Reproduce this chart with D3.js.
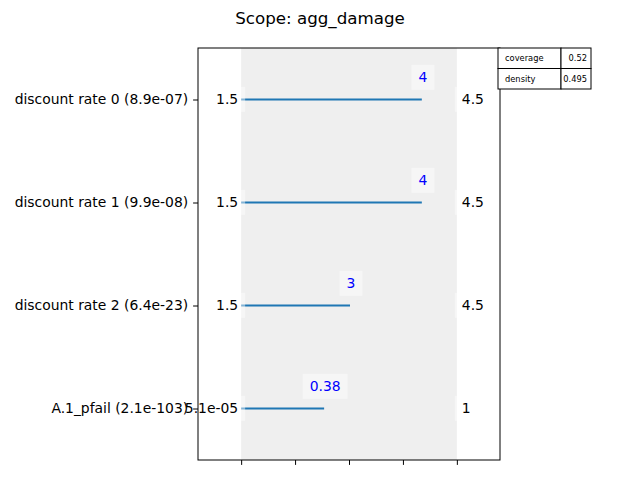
<!DOCTYPE html>
<html>
<head>
<meta charset="utf-8">
<script src="https://cdn.jsdelivr.net/npm/d3@7"></script>
<style>
  body { margin: 0; background: #fff; }
  text { font-family: "DejaVu Sans", sans-serif; }
</style>
</head>
<body>
<div id="chart"></div>
<script>
// restricted dimensions, top to bottom
var names = ["discount rate 0", "discount rate 1", "discount rate 2", "A.1_pfail"];
var qpValues = ["8.9e-07", "9.9e-08", "6.4e-23", "2.1e-103"];
var lowerLabels = ["1.5", "1.5", "1.5", "5.1e-05"];
var upperLabels = ["4.5", "4.5", "4.5", "1"];
var boxValues = ["4", "4", "3", "0.38"];
// normalised upper limit of the box on each dimension
var boxNorm = [0.833, 0.833, 0.5, 0.38];
var statNames = ["coverage", "density"];
var statValues = ["0.52", "0.495"];

var W = 640, H = 480;
var margin = { top: 48, right: 140, bottom: 20, left: 198 };

var svg = d3.select("#chart").append("svg")
    .attr("width", W)
    .attr("height", H);

var x = d3.scaleLinear().domain([-0.2, 1.2]).range([margin.left, W - margin.right]);
var y = d3.scaleLinear().domain([-0.5, names.length - 0.5]).range([margin.top, H - margin.bottom]);

// title
svg.append("text")
    .attr("x", W / 2)
    .attr("y", 24)
    .attr("text-anchor", "middle")
    .style("font-size", "16.7px")
    .text("Scope: agg_damage");

// shaded full range
svg.append("rect")
    .attr("x", x(0))
    .attr("y", y(-0.5))
    .attr("width", x(1) - x(0))
    .attr("height", y(names.length - 0.5) - y(-0.5))
    .attr("fill", "#efefef");

// box lines
svg.selectAll(".boxline")
    .data(boxNorm)
    .enter().append("line")
    .attr("x1", x(0))
    .attr("x2", d => x(d) + 1)
    .attr("y1", (d, i) => y(i))
    .attr("y2", (d, i) => y(i))
    .attr("stroke", "#1f77b4")
    .attr("stroke-width", 2);

// text with a faint white box behind it
function boxedText(g, tx, ty, anchor, str, color) {
    var bg = g.append("rect");
    var t = g.append("text")
        .attr("x", tx)
        .attr("y", ty)
        .attr("text-anchor", anchor)
        .attr("dy", "0.35em")
        .style("font-size", "13.9px")
        .attr("fill", color)
        .text(str);
    var b = t.node().getBBox();
    var padX = 7, padY = 4.5;
    bg.attr("x", b.x - padX).attr("y", b.y - padY)
        .attr("width", b.width + 2 * padX).attr("height", b.height + 2 * padY)
        .attr("fill", "#fff").attr("fill-opacity", 0.45);
}

var labels = svg.append("g");
names.forEach(function (n, i) {
    boxedText(labels, x(0) - 3, y(i), "end", lowerLabels[i], "#000");
    boxedText(labels, x(1) + 5, y(i), "start", upperLabels[i], "#000");
    boxedText(labels, x(boxNorm[i]) + 2, y(i) - 22, "middle", boxValues[i], "#0000ff");
});

// axes frame
svg.append("rect")
    .attr("x", x(-0.2))
    .attr("y", y(-0.5))
    .attr("width", x(1.2) - x(-0.2))
    .attr("height", y(names.length - 0.5) - y(-0.5))
    .attr("fill", "none")
    .attr("stroke", "#000")
    .attr("stroke-width", 1);

// y ticks
var yAxis = d3.axisLeft(y)
    .tickValues(d3.range(names.length))
    .tickFormat((d, i) => names[i] + " (" + qpValues[i] + ")")
    .tickSize(4.9)
    .tickPadding(4.9);
var gy = svg.append("g")
    .attr("transform", "translate(" + x(-0.2) + ",0)")
    .call(yAxis);
gy.select(".domain").remove();
gy.selectAll("text").style("font-size", "13.9px").style("font-family", "DejaVu Sans").attr("fill", "#000");

// x ticks without labels
var xAxis = d3.axisBottom(x)
    .tickValues([0, 0.25, 0.5, 0.75, 1])
    .tickFormat("")
    .tickSize(4.9);
var gx = svg.append("g")
    .attr("transform", "translate(0," + y(names.length - 0.5) + ")")
    .call(xAxis);
gx.select(".domain").remove();

// stats table
var tx0 = 498, tcol = 561, tx1 = 591, ty0 = 48, rowH = 20.5;
var table = svg.append("g");
statNames.forEach(function (s, i) {
    var ry = ty0 + i * rowH;
    table.append("rect").attr("x", tx0).attr("y", ry).attr("width", tcol - tx0).attr("height", rowH)
        .attr("fill", "#fff").attr("stroke", "#000").attr("stroke-width", 1);
    table.append("rect").attr("x", tcol).attr("y", ry).attr("width", tx1 - tcol).attr("height", rowH)
        .attr("fill", "#fff").attr("stroke", "#000").attr("stroke-width", 1);
    table.append("text").attr("x", tx0 + 7).attr("y", ry + rowH / 2).attr("dy", "0.35em")
        .style("font-size", "8.3px").text(s);
    table.append("text").attr("x", tx1 - 4).attr("y", ry + rowH / 2).attr("dy", "0.35em")
        .attr("text-anchor", "end").style("font-size", "8.3px").text(statValues[i]);
});
</script>
</body>
</html>
